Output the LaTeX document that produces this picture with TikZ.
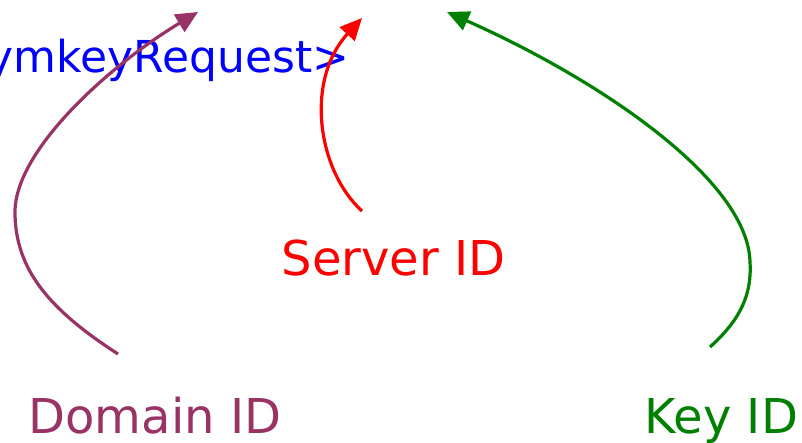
\documentclass[tikz,border=0pt]{standalone}
\usepackage{fontspec}
\setmainfont{DejaVu Sans}
\usetikzlibrary{arrows.meta}
\definecolor{domaincol}{RGB}{153,51,102}
\definecolor{keycol}{RGB}{0,128,0}
\tikzset{lbl/.style={inner sep=0pt, font=\fontsize{48}{58}\selectfont}}

\begin{document}
\begin{tikzpicture}[x=1pt, y=-1pt, >={Triangle[length=22pt, width=20pt]},
  line width=3.2pt]
  \useasboundingbox (0,0) rectangle (802,442);
  % Labels
  \node[lbl, anchor=base east, text=blue, font=\fontsize{44}{53}\selectfont]
    (request) at (351,72) {ymkeyRequest>};
  \node[lbl, anchor=base west, text=red]       (server) at (280,275) {Server ID};
  \node[lbl, anchor=base west, text=domaincol] (domain) at (27,433)  {Domain ID};
  \node[lbl, anchor=base west, text=keycol]    (key)    at (643,433) {Key ID};
  % Arrow ends
  \coordinate (domain-from) at (118,354);
  \coordinate (domain-to)   at (198,12);
  \coordinate (server-from) at (362,211);
  \coordinate (server-to)   at (362,18);
  \coordinate (key-from)    at (710,347);
  \coordinate (key-to)      at (447,12);
  % Arrows
  \draw[->, domaincol] (domain-from) .. controls (50,310) and (15,270) .. (15,212)
    .. controls (15,150) and (110,65) .. (domain-to);
  \draw[->, red] (server-from) .. controls (317,170) and (305,80) .. (server-to);
  \draw[->, keycol] (key-from) .. controls (740,320) and (752,295) .. (750,262)
    .. controls (748,180) and (600,80) .. (key-to);
\end{tikzpicture}
\end{document}
